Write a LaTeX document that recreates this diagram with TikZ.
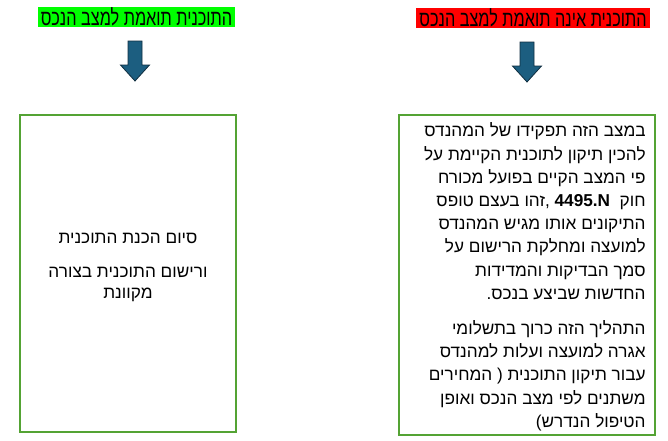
\documentclass[tikz,border=0pt]{standalone}
\usepackage{fontspec}
\setmainfont{Liberation Sans}
\newfontfamily\hebfont[Script=Hebrew]{Liberation Sans}
\newfontfamily\hebnarrow[Script=Hebrew,FakeStretch=0.74]{Liberation Sans}
\TeXXeTstate=1
\usetikzlibrary{
  positioning,
  calc
}
\definecolor{panelgreen}{RGB}{84,163,52}
\definecolor{arrowblue}{RGB}{28,94,128}
\definecolor{arrowedge}{RGB}{16,46,64}
\definecolor{tagred}{RGB}{255,0,0}
\definecolor{taggreen}{RGB}{0,255,0}
\newcommand{\rl}[1]{\beginR #1\endR}
\newcommand{\downarr}[2]{%
  \draw[arrowedge,fill=arrowblue,line width=0.8pt,line join=miter]
    (#1-7,#2) -- (#1+7,#2) -- (#1+7,#2+24) -- (#1+14.5,#2+24)
    -- (#1,#2+40) -- (#1-14.5,#2+24) -- (#1-7,#2+24) -- cycle;%
}
\tikzset{
  tag/.style={minimum height=20, inner sep=0pt,
    font=\hebnarrow\fontsize{22}{24}\selectfont},
  panel/.style={draw=panelgreen, line width=1.6pt, inner sep=0pt},
  paneltext/.style={font=\hebfont\fontsize{17.2}{23.2}\selectfont, inner sep=0pt}
}

\begin{document}
\begin{tikzpicture}[x=1pt,y=-1pt]
  \useasboundingbox (0,0) rectangle (668,440);

  % headings
  \node[tag, fill=taggreen, minimum width=197] (oktag) at (136.5,17)
    {\rl{התוכנית תואמת למצב הנכס}};
  \node[tag, fill=tagred, minimum width=234] (badtag) at (533,17.5)
    {\rl{התוכנית אינה תואמת למצב הנכס}};

  % arrows
  \downarr{135}{41}
  \downarr{527}{42}

  % panels
  \node[panel, minimum width=216, minimum height=317] (okpanel) at (128,273.5) {};
  \node[panel, minimum width=256, minimum height=320] (badpanel) at (527,275) {};

  \node[paneltext, align=center, font=\hebfont\fontsize{17.2}{21}\selectfont]
    (oktext) at (128,267)
    {\rl{סיום הכנת התוכנית}\\[13pt]
     \rl{ורישום התוכנית בצורה}\\
     \rl{מקוונת}};

  \node[paneltext, align=right, anchor=north east] (badtext)
    at ($(badpanel.north east)+(-10,8.5)$)
    {\rl{במצב הזה תפקידו של המהנדס}\\
     \rl{להכין תיקון לתוכנית הקיימת על}\\
     \rl{פי המצב הקיים בפועל מכורח}\\
     \rl{חוק\ \ \beginL\textbf{4495.N}\endL\ ,זהו בעצם טופס}\\
     \rl{התיקונים אותו מגיש המהנדס}\\
     \rl{למועצה ומחלקת הרישום על}\\
     \rl{סמך הבדיקות והמדידות}\\
     \rl{החדשות שביצע בנכס.}\\[12pt]
     \rl{התהליך הזה כרוך בתשלומי}\\
     \rl{אגרה למועצה ועלות למהנדס}\\
     \rl{עבור תיקון התוכנית ( המחירים}\\
     \rl{משתנים לפי מצב הנכס ואופן}\\
     \rl{הטיפול הנדרש)}};
\end{tikzpicture}
\end{document}
